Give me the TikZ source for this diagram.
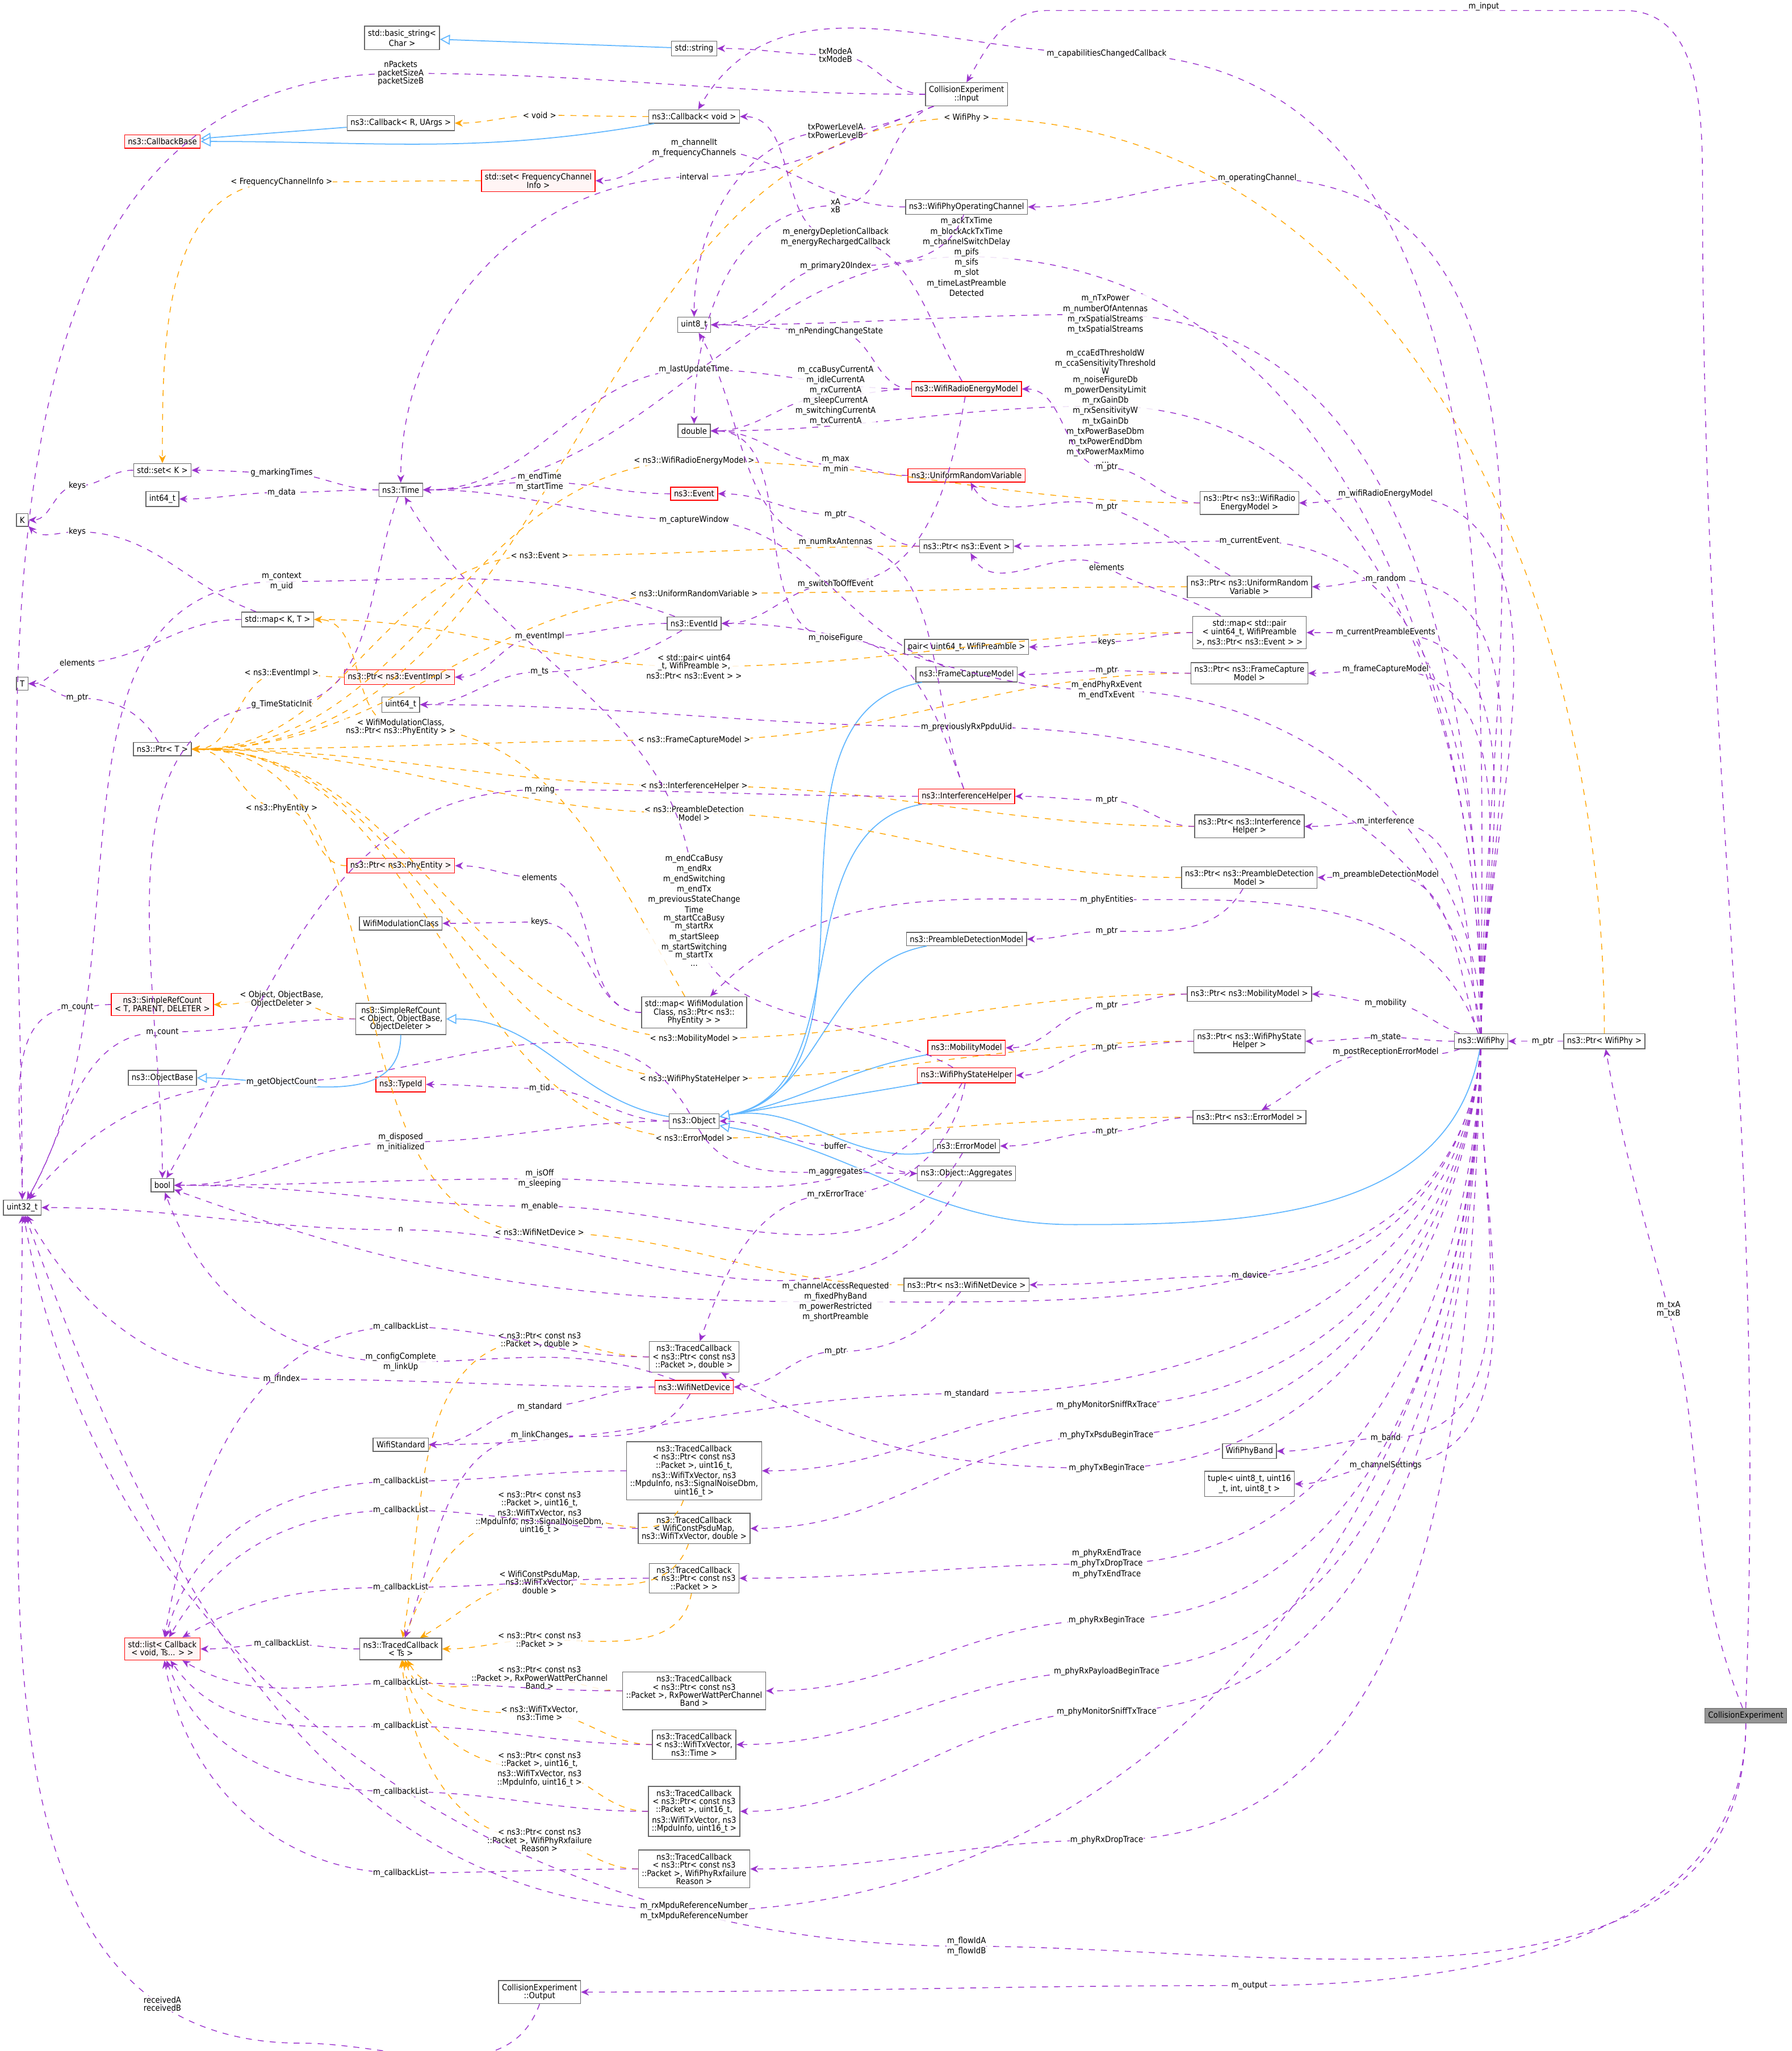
\documentclass[tikz,border=0pt]{standalone}
\usepackage{fontspec}
\setmainfont{DejaVu Sans Condensed}
\usetikzlibrary{calc,arrows.meta}
\definecolor{pu}{HTML}{9A32CD}
\definecolor{orn}{HTML}{FFA500}
\definecolor{blu}{HTML}{63B8FF}
\tikzset{
 bx/.style={draw=black!60,fill=white,inner sep=1.7pt,align=center,font=\fontsize{4.2}{4.1}\selectfont},
 rbx/.style={bx,draw=red,fill=red!4},
 lbl/.style={font=\fontsize{4.2}{4.1}\selectfont,align=center,inner sep=0.3pt,fill=white,fill opacity=0.85,text opacity=1},
 mem/.style={draw=pu,dashed,-{Stealth[length=4pt,width=3.5pt]},line width=0.4pt},
 tpl/.style={draw=orn,dashed,-{Stealth[length=4pt,width=3.5pt]},line width=0.4pt},
 inh/.style={draw=blu,-{Triangle[open,length=5pt,width=5pt,fill=white]},line width=0.5pt},
}
\NewDocumentCommand\E{mmmmmO{out=180,in=0}O{out=180,in=0}}{%
 \draw[#1] (#2) to[#6] (#4) to[#7] (#3);
 \node[lbl] at (#4) {#5};}
\begin{document}
\begin{tikzpicture}[x=0.02306cm,y=-0.02306cm]
\useasboundingbox[fill=white] (0,0) rectangle (1368,1566);
% nodes
\node[bx] (bstr) at (307,29) {std::basic\_string\textless\\Char \textgreater};
\node[bx] (str) at (530,37) {std::string};
\node[bx] (inp) at (738,72) {CollisionExperiment\\::Input};
\node[bx] (cbr) at (306,94) {ns3::Callback\textless{} R, UArgs \textgreater};
\node[bx] (cbv) at (530,89) {ns3::Callback\textless{} void \textgreater};
\node[rbx] (cbb) at (124,108) {ns3::CallbackBase};
\node[rbx] (sfc) at (411,138) {std::set\textless{} FrequencyChannel\\Info \textgreater};
\node[bx] (woc) at (738,158) {ns3::WifiPhyOperatingChannel};
\node[bx] (u8) at (530,248) {uint8\_t};
\node[rbx] (wrem) at (738,297) {ns3::WifiRadioEnergyModel};
\node[bx] (dbl) at (530,329) {double};
\node[rbx] (urv) at (738,363) {ns3::UniformRandomVariable};
\node[bx] (setk) at (124,359) {std::set\textless{} K \textgreater};
\node[bx] (i64) at (124,381) {int64\_t};
\node[bx] (time) at (306,374) {ns3::Time};
\node[rbx] (ev) at (530,377) {ns3::Event};
\node[bx] (K) at (17,397) {K};
\node[bx] (pev) at (738,417) {ns3::Ptr\textless{} ns3::Event \textgreater};
\node[bx] (pwrem) at (954,384) {ns3::Ptr\textless{} ns3::WifiRadio\\EnergyModel \textgreater};
\node[bx] (purv) at (954,448) {ns3::Ptr\textless{} ns3::UniformRandom\\Variable \textgreater};
\node[bx] (mpair) at (954,483) {std::map\textless{} std::pair\\\textless{} uint64\_t, WifiPreamble\\ \textgreater, ns3::Ptr\textless{} ns3::Event \textgreater{} \textgreater};
\node[bx] (eid) at (530,476) {ns3::EventId};
\node[bx] (mkt) at (212,473) {std::map\textless{} K, T \textgreater};
\node[bx] (pair) at (738,494) {pair\textless{} uint64\_t, WifiPreamble \textgreater};
\node[bx] (T) at (17,522) {T};
\node[rbx] (pei) at (305,517) {ns3::Ptr\textless{} ns3::EventImpl \textgreater};
\node[bx] (fcm) at (738,515) {ns3::FrameCaptureModel};
\node[bx] (pfcm) at (954,514) {ns3::Ptr\textless{} ns3::FrameCapture\\Model \textgreater};
\node[bx] (u64) at (306,538) {uint64\_t};
\node[bx] (ptrT) at (124,572) {ns3::Ptr\textless{} T \textgreater};
\node[rbx] (ih) at (738,608) {ns3::InterferenceHelper};
\node[bx] (pih) at (954,631) {ns3::Ptr\textless{} ns3::Interference\\Helper \textgreater};
\node[rbx] (ppe) at (306,661) {ns3::Ptr\textless{} ns3::PhyEntity \textgreater};
\node[bx] (ppdm) at (954,670) {ns3::Ptr\textless{} ns3::PreambleDetection\\Model \textgreater};
\node[bx] (wmc) at (306,705) {WifiModulationClass};
\node[bx] (pdm) at (738,717) {ns3::PreambleDetectionModel};
\node[rbx] (srcT) at (124,767) {ns3::SimpleRefCount\\\textless{} T, PARENT, DELETER \textgreater};
\node[bx] (srcO) at (306,778) {ns3::SimpleRefCount\\\textless{} Object, ObjectBase,\\ObjectDeleter \textgreater};
\node[bx] (mwmc) at (530,773) {std::map\textless{} WifiModulation\\Class, ns3::Ptr\textless{} ns3::\\PhyEntity \textgreater{} \textgreater};
\node[bx] (pmm) at (954,759) {ns3::Ptr\textless{} ns3::MobilityModel \textgreater};
\node[rbx] (mm) at (738,800) {ns3::MobilityModel};
\node[bx] (pwps) at (954,795) {ns3::Ptr\textless{} ns3::WifiPhyState\\Helper \textgreater};
\node[rbx] (wps) at (738,821) {ns3::WifiPhyStateHelper};
\node[bx] (ob) at (124,823) {ns3::ObjectBase};
\node[rbx] (tid) at (306,828) {ns3::TypeId};
\node[bx] (obj) at (530,856) {ns3::Object};
\node[bx] (pem) at (954,853) {ns3::Ptr\textless{} ns3::ErrorModel \textgreater};
\node[bx] (em) at (738,875) {ns3::ErrorModel};
\node[bx] (agg) at (738,896) {ns3::Object::Aggregates};
\node[bx] (bool) at (124,905) {bool};
\node[bx] (u32) at (17,922) {uint32\_t};
\node[bx] (pwnd) at (738,981) {ns3::Ptr\textless{} ns3::WifiNetDevice \textgreater};
\node[bx] (tcpd) at (530,1036) {ns3::TracedCallback\\\textless{} ns3::Ptr\textless{} const ns3\\::Packet \textgreater, double \textgreater};
\node[rbx] (wnd) at (530,1059) {ns3::WifiNetDevice};
\node[bx] (wstd) at (306,1103) {WifiStandard};
\node[bx] (tc5) at (530,1123) {ns3::TracedCallback\\\textless{} ns3::Ptr\textless{} const ns3\\::Packet \textgreater, uint16\_t,\\ns3::WifiTxVector, ns3\\::MpduInfo, ns3::SignalNoiseDbm,\\uint16\_t \textgreater};
\node[bx] (wpb) at (954,1108) {WifiPhyBand};
\node[bx] (tup) at (954,1133) {tuple\textless{} uint8\_t, uint16\\\_t, int, uint8\_t \textgreater};
\node[bx] (tcwc) at (530,1167) {ns3::TracedCallback\\\textless{} WifiConstPsduMap,\\ns3::WifiTxVector, double \textgreater};
\node[bx] (tcp) at (530,1205) {ns3::TracedCallback\\\textless{} ns3::Ptr\textless{} const ns3\\::Packet \textgreater{} \textgreater};
\node[rbx] (list) at (124,1259) {std::list\textless{} Callback\\\textless{} void, Ts... \textgreater{} \textgreater};
\node[bx] (tcts) at (306,1259) {ns3::TracedCallback\\\textless{} Ts \textgreater};
\node[bx] (tcrx) at (530,1291) {ns3::TracedCallback\\\textless{} ns3::Ptr\textless{} const ns3\\::Packet \textgreater, RxPowerWattPerChannel\\Band \textgreater};
\node[bx] (tcwt) at (530,1332) {ns3::TracedCallback\\\textless{} ns3::WifiTxVector,\\ns3::Time \textgreater};
\node[bx] (tc4) at (530,1383) {ns3::TracedCallback\\\textless{} ns3::Ptr\textless{} const ns3\\::Packet \textgreater, uint16\_t,\\ns3::WifiTxVector, ns3\\::MpduInfo, uint16\_t \textgreater};
\node[bx] (tcrf) at (530,1427) {ns3::TracedCallback\\\textless{} ns3::Ptr\textless{} const ns3\\::Packet \textgreater, WifiPhyRxfailure\\Reason \textgreater};
\node[bx] (out) at (412,1521) {CollisionExperiment\\::Output};
\node[bx] (wp) at (1131,795) {ns3::WifiPhy};
\node[bx] (pwp) at (1225,795) {ns3::Ptr\textless{} WifiPhy \textgreater};
\node[bx,fill=black!42] (ce) at (1333,1310) {CollisionExperiment};
% inheritance
\draw[inh] (str) -- (bstr);
\draw[inh] (cbr) -- (cbb);
\draw[inh] (cbv) to[out=190,in=0] (cbb);
\draw[inh] (srcO) to[out=-90,in=0] (ob);
\draw[inh] (obj) to[out=170,in=0] (srcO);
\foreach \n in {fcm,ih,pdm,mm,wps,em} {\draw[inh] (\n) to[out=190,in=10] (obj);}
\draw[inh] (wp) to[out=-100,in=0] (820,935) to[out=180,in=-10] (obj);
% templates
\E{tpl}{cbv}{cbr}{412,88}{\textless{} void \textgreater}
\E{tpl}{pwp}{ptrT}{738,90}{\textless{} WifiPhy \textgreater}[out=90,in=0]
\E{tpl}{sfc}{setk}{215,139}{\textless{} FrequencyChannelInfo \textgreater}[out=180,in=0][out=180,in=90]
\E{tpl}{pwrem}{ptrT}{530,352}{\textless{} ns3::WifiRadioEnergyModel \textgreater}
\E{tpl}{pev}{ptrT}{412,424}{\textless{} ns3::Event \textgreater}
\E{tpl}{purv}{ptrT}{530,453}{\textless{} ns3::UniformRandomVariable \textgreater}
\E{tpl}{mpair}{mkt}{530,509}{\textless{} std::pair\textless{} uint64\\\_t, WifiPreamble \textgreater,\\ns3::Ptr\textless{} ns3::Event \textgreater{} \textgreater}
\E{tpl}{pei}{ptrT}{215,514}{\textless{} ns3::EventImpl \textgreater}
\E{tpl}{mwmc}{mkt}{306,555}{\textless{} WifiModulationClass,\\ns3::Ptr\textless{} ns3::PhyEntity \textgreater{} \textgreater}[out=120,in=0]
\E{tpl}{pfcm}{ptrT}{530,565}{\textless{} ns3::FrameCaptureModel \textgreater}
\E{tpl}{pih}{ptrT}{530,600}{\textless{} ns3::InterferenceHelper \textgreater}
\E{tpl}{ppdm}{ptrT}{530,621}{\textless{} ns3::PreambleDetection\\Model \textgreater}
\E{tpl}{ppe}{ptrT}{215,617}{\textless{} ns3::PhyEntity \textgreater}
\E{tpl}{pmm}{ptrT}{530,793}{\textless{} ns3::MobilityModel \textgreater}
\E{tpl}{pwps}{ptrT}{530,824}{\textless{} ns3::WifiPhyStateHelper \textgreater}
\E{tpl}{pem}{ptrT}{530,869}{\textless{} ns3::ErrorModel \textgreater}
\E{tpl}{pwnd}{ptrT}{412,941}{\textless{} ns3::WifiNetDevice \textgreater}
\E{tpl}{srcO}{srcT}{215,763}{\textless{} Object, ObjectBase,\\ObjectDeleter \textgreater}
\E{tpl}{tcpd}{tcts}{412,1023}{\textless{} ns3::Ptr\textless{} const ns3\\::Packet \textgreater, double \textgreater}[out=180,in=0][out=180,in=80]
\E{tpl}{tc5}{tcts}{412,1155}{\textless{} ns3::Ptr\textless{} const ns3\\::Packet \textgreater, uint16\_t,\\ns3::WifiTxVector, ns3\\::MpduInfo, ns3::SignalNoiseDbm,\\uint16\_t \textgreater}[out=-110,in=0][out=180,in=70]
\E{tpl}{tcwc}{tcts}{412,1208}{\textless{} WifiConstPsduMap,\\ns3::WifiTxVector,\\double \textgreater}[out=-110,in=0][out=180,in=30]
\E{tpl}{tcp}{tcts}{412,1252}{\textless{} ns3::Ptr\textless{} const ns3\\::Packet \textgreater{} \textgreater}[out=-100,in=0][out=180,in=0]
\E{tpl}{tcrx}{tcts}{412,1281}{\textless{} ns3::Ptr\textless{} const ns3\\::Packet \textgreater, RxPowerWattPerChannel\\Band \textgreater}[out=180,in=0][out=180,in=-60]
\E{tpl}{tcwt}{tcts}{412,1308}{\textless{} ns3::WifiTxVector,\\ns3::Time \textgreater}[out=180,in=0][out=180,in=-70]
\E{tpl}{tc4}{tcts}{412,1351}{\textless{} ns3::Ptr\textless{} const ns3\\::Packet \textgreater, uint16\_t,\\ns3::WifiTxVector, ns3\\::MpduInfo, uint16\_t \textgreater}[out=180,in=0][out=180,in=-80]
\E{tpl}{tcrf}{tcts}{412,1405}{\textless{} ns3::Ptr\textless{} const ns3\\::Packet \textgreater, WifiPhyRxfailure\\Reason \textgreater}[out=180,in=0][out=180,in=-85]
% members
\draw[mem] (ce.north) to[out=88,in=-90] (1300,150) to[out=90,in=0] (1240,8) -- (800,8) to[out=180,in=60] (inp.north);
\node[lbl] at (1133,5) {m\_input};
\E{mem}{ce}{pwp}{1274,1000}{m\_txA\\m\_txB}[out=112,in=-75][out=105,in=-80]
\E{mem}{ce}{u32}{738,1486}{m\_flowIdA\\m\_flowIdB}[out=-90,in=0][out=180,in=-80]
\E{mem}{ce}{out}{954,1516}{m\_output}[out=-90,in=0]
\draw[mem] (out.south) to[out=-110,in=0] (230,1560) to[out=180,in=-90] (u32.south);
\node[lbl] at (124,1530) {receivedA\\receivedB};
\E{mem}{pwp}{wp}{1178,795}{m\_ptr}
\E{mem}{inp}{str}{638,42}{txModeA\\txModeB}
\E{mem}{inp}{u32}{306,56}{nPackets\\packetSizeA\\packetSizeB}[out=180,in=0][out=180,in=90]
\E{mem}{inp}{dbl}{638,157}{xA\\xB}[out=200,in=0][out=180,in=90]
\E{mem}{inp}{u8}{638,100}{txPowerLevelA\\txPowerLevelB}[out=200,in=0][out=180,in=90]
\E{mem}{inp}{time}{530,135}{interval}[out=200,in=0][out=180,in=90]
\E{mem}{wp}{cbv}{845,41}{m\_capabilitiesChangedCallback}[out=90,in=0][out=180,in=60]
\E{mem}{wp}{woc}{960,136}{m\_operatingChannel}[out=90,in=0]
\E{mem}{wp}{time}{738,196}{m\_ackTxTime\\m\_blockAckTxTime\\m\_channelSwitchDelay\\m\_pifs\\m\_sifs\\m\_slot\\m\_timeLastPreamble\\Detected}[out=90,in=0]
\E{mem}{wp}{u8}{844,240}{m\_nTxPower\\m\_numberOfAntennas\\m\_rxSpatialStreams\\m\_txSpatialStreams}[out=90,in=0]
\E{mem}{wp}{dbl}{844,310}{m\_ccaEdThresholdW\\m\_ccaSensitivityThreshold\\W\\m\_noiseFigureDb\\m\_powerDensityLimit\\m\_rxGainDb\\m\_rxSensitivityW\\m\_txGainDb\\m\_txPowerBaseDbm\\m\_txPowerEndDbm\\m\_txPowerMaxMimo\\...}[out=90,in=0]
\E{mem}{wp}{pwrem}{1058,377}{m\_wifiRadioEnergyModel}[out=90,in=0]
\E{mem}{wp}{pev}{954,413}{m\_currentEvent}[out=90,in=0]
\E{mem}{wp}{purv}{1058,442}{m\_random}[out=90,in=0]
\E{mem}{wp}{mpair}{1058,483}{m\_currentPreambleEvents}[out=90,in=0]
\E{mem}{wp}{pfcm}{1058,511}{m\_frameCaptureModel}[out=90,in=0]
\E{mem}{wp}{eid}{845,527}{m\_endPhyRxEvent\\m\_endTxEvent}[out=90,in=0]
\E{mem}{wp}{u64}{738,555}{m\_previouslyRxPpduUid}[out=95,in=0]
\E{mem}{wp}{pih}{1058,627}{m\_interference}[out=100,in=0]
\E{mem}{wp}{ppdm}{1058,668}{m\_preambleDetectionModel}[out=110,in=0]
\E{mem}{wp}{mwmc}{845,687}{m\_phyEntities}[out=110,in=0][out=180,in=45]
\E{mem}{wp}{pmm}{1058,766}{m\_mobility}[out=160,in=0]
\E{mem}{wp}{pwps}{1058,792}{m\_state}
\E{mem}{wp}{pem}{1058,803}{m\_postReceptionErrorModel}[out=200,in=0][out=180,in=30]
\E{mem}{wp}{pwnd}{954,974}{m\_device}[out=-95,in=0]
\E{mem}{wp}{bool}{638,994}{m\_channelAccessRequested\\m\_fixedPhyBand\\m\_powerRestricted\\m\_shortPreamble}[out=-95,in=0][out=180,in=-20]
\E{mem}{wp}{wstd}{738,1064}{m\_standard}[out=-95,in=0]
\E{mem}{wp}{tc5}{845,1073}{m\_phyMonitorSniffRxTrace}[out=-95,in=0]
\E{mem}{wp}{tcwc}{845,1096}{m\_phyTxPsduBeginTrace}[out=-95,in=0]
\E{mem}{wp}{wpb}{1058,1098}{m\_band}[out=-92,in=0]
\E{mem}{wp}{tup}{1058,1119}{m\_channelSettings}[out=-92,in=0]
\E{mem}{wp}{tcpd}{845,1121}{m\_phyTxBeginTrace}[out=-95,in=0][out=180,in=-30]
\E{mem}{wp}{tcp}{845,1194}{m\_phyRxEndTrace\\m\_phyTxDropTrace\\m\_phyTxEndTrace}[out=-92,in=0]
\E{mem}{wp}{tcrx}{845,1237}{m\_phyRxBeginTrace}[out=-92,in=0]
\E{mem}{wp}{tcwt}{845,1276}{m\_phyRxPayloadBeginTrace}[out=-92,in=0]
\E{mem}{wp}{tc4}{845,1307}{m\_phyMonitorSniffTxTrace}[out=-92,in=0]
\E{mem}{wp}{tcrf}{845,1405}{m\_phyRxDropTrace}[out=-92,in=0]
\E{mem}{wp}{u32}{530,1459}{m\_rxMpduReferenceNumber\\m\_txMpduReferenceNumber}[out=-91,in=0][out=180,in=-70]
\E{mem}{pwrem}{wrem}{845,357}{m\_ptr}
\E{mem}{wrem}{cbv}{638,181}{m\_energyDepletionCallback\\m\_energyRechargedCallback}[out=120,in=0]
\E{mem}{wrem}{u8}{638,253}{m\_nPendingChangeState}
\E{mem}{wrem}{time}{530,282}{m\_lastUpdateTime}
\E{mem}{wrem}{dbl}{638,302}{m\_ccaBusyCurrentA\\m\_idleCurrentA\\m\_rxCurrentA\\m\_sleepCurrentA\\m\_switchingCurrentA\\m\_txCurrentA}
\E{mem}{wrem}{eid}{638,446}{m\_switchToOffEvent}[out=-100,in=0]
\E{mem}{woc}{sfc}{530,113}{m\_channelIt\\m\_frequencyChannels}
\E{mem}{woc}{u8}{638,203}{m\_primary20Index}[out=-110,in=0]
\E{mem}{urv}{dbl}{638,355}{m\_max\\m\_min}
\E{mem}{purv}{urv}{845,387}{m\_ptr}[out=150,in=-20][out=160,in=-60]
\E{mem}{pev}{ev}{638,393}{m\_ptr}
\E{mem}{ev}{time}{412,368}{m\_endTime\\m\_startTime}
\E{mem}{mpair}{pev}{845,433}{elements}[out=150,in=-30][out=150,in=-60]
\E{mem}{mpair}{pair}{845,490}{keys}
\E{mem}{pfcm}{fcm}{845,512}{m\_ptr}
\E{mem}{fcm}{time}{530,397}{m\_captureWindow}[out=160,in=0]
\E{mem}{pih}{ih}{845,611}{m\_ptr}
\E{mem}{ih}{dbl}{638,487}{m\_noiseFigure}[out=110,in=0]
\E{mem}{ih}{bool}{412,603}{m\_rxing}[out=180,in=0][out=180,in=60]
\E{mem}{ih}{u8}{638,414}{m\_numRxAntennas}[out=110,in=0][out=180,in=-60]
\E{mem}{ppdm}{pdm}{845,711}{m\_ptr}[out=-120,in=0]
\E{mem}{pmm}{mm}{845,768}{m\_ptr}
\E{mem}{pwps}{wps}{845,800}{m\_ptr}
\E{mem}{wps}{time}{530,695}{m\_endCcaBusy\\m\_endRx\\m\_endSwitching\\m\_endTx\\m\_previousStateChange\\Time\\m\_startCcaBusy\\m\_startRx\\m\_startSleep\\m\_startSwitching\\m\_startTx\\...}[out=150,in=-90][out=90,in=-60]
\E{mem}{wps}{bool}{412,900}{m\_isOff\\m\_sleeping}[out=-120,in=0]
\E{mem}{wps}{tcpd}{638,912}{m\_rxErrorTrace}[out=-100,in=0][out=180,in=70]
\E{mem}{pem}{em}{845,864}{m\_ptr}
\E{mem}{em}{bool}{412,921}{m\_enable}[out=-120,in=0]
\E{mem}{agg}{u32}{306,939}{n}[out=-120,in=0]
\E{mem}{agg}{obj}{638,875}{buffer}
\E{mem}{obj}{agg}{638,895}{m\_aggregates}[out=-60,in=180][out=0,in=180]
\E{mem}{obj}{tid}{412,831}{m\_tid}
\E{mem}{obj}{bool}{306,872}{m\_disposed\\m\_initialized}
\E{mem}{obj}{u32}{215,826}{m\_getObjectCount}[out=120,in=0][out=180,in=50]
\E{mem}{srcO}{u32}{124,788}{m\_count}[out=180,in=0][out=180,in=60]
\E{mem}{srcT}{u32}{59,769}{m\_count}[out=180,in=0][out=180,in=90]
\E{mem}{setk}{K}{59,371}{keys}
\E{mem}{mkt}{K}{59,406}{keys}[out=160,in=0][out=180,in=-45]
\E{mem}{mkt}{T}{59,506}{elements}
\E{mem}{ptrT}{T}{59,533}{m\_ptr}[out=120,in=0]
\E{mem}{time}{setk}{215,361}{g\_markingTimes}
\E{mem}{time}{i64}{215,376}{m\_data}
\E{mem}{time}{bool}{215,538}{g\_TimeStaticInit}[out=-110,in=0][out=180,in=90]
\E{mem}{eid}{u32}{215,444}{m\_context\\m\_uid}[out=160,in=0][out=180,in=60]
\E{mem}{eid}{pei}{412,486}{m\_eventImpl}
\E{mem}{eid}{u64}{412,513}{m\_ts}[out=-150,in=0]
\E{mem}{mwmc}{wmc}{412,704}{keys}
\E{mem}{mwmc}{ppe}{412,670}{elements}
\E{mem}{pwnd}{wnd}{638,1032}{m\_ptr}[out=-130,in=0]
\E{mem}{wnd}{u32}{215,1053}{m\_ifIndex}[out=180,in=0][out=180,in=-60]
\E{mem}{wnd}{bool}{306,1040}{m\_configComplete\\m\_linkUp}[out=160,in=0][out=180,in=-70]
\E{mem}{wnd}{wstd}{412,1074}{m\_standard}
\E{mem}{wnd}{tcts}{412,1096}{m\_linkChanges}[out=-120,in=0][out=180,in=70]
\E{mem}{tcpd}{list}{306,1013}{m\_callbackList}[out=180,in=0][out=180,in=80]
\E{mem}{tc5}{list}{306,1131}{m\_callbackList}[out=180,in=0][out=180,in=75]
\E{mem}{tcwc}{list}{306,1153}{m\_callbackList}[out=180,in=0][out=180,in=60]
\E{mem}{tcp}{list}{306,1212}{m\_callbackList}[out=180,in=0][out=180,in=30]
\E{mem}{tcts}{list}{215,1255}{m\_callbackList}
\E{mem}{tcrx}{list}{306,1285}{m\_callbackList}[out=180,in=0][out=180,in=-30]
\E{mem}{tcwt}{list}{306,1318}{m\_callbackList}[out=180,in=0][out=180,in=-55]
\E{mem}{tc4}{list}{306,1368}{m\_callbackList}[out=180,in=0][out=180,in=-70]
\E{mem}{tcrf}{list}{306,1430}{m\_callbackList}[out=180,in=0][out=180,in=-80]
\end{tikzpicture}
\end{document}
